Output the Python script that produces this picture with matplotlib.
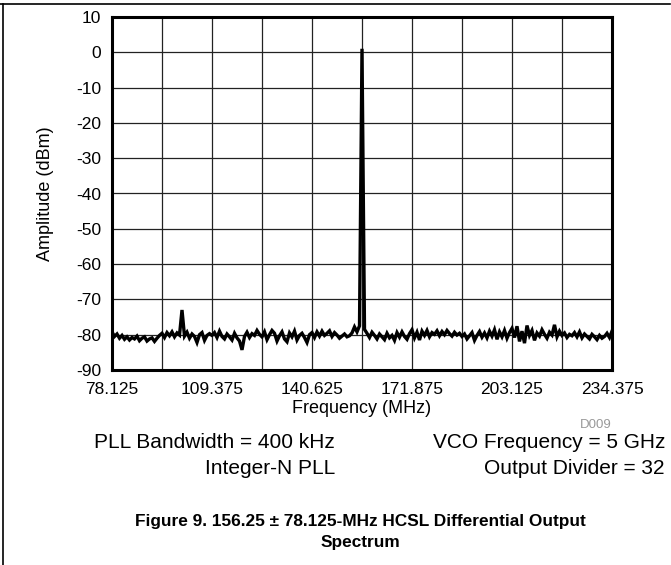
import numpy as np
import matplotlib
matplotlib.use("Agg")
import matplotlib.pyplot as plt
from matplotlib.lines import Line2D

plt.rcParams['font.family'] = ['Liberation Sans', 'DejaVu Sans']
plt.rcParams['axes.unicode_minus'] = False

# ---- Data ----
F_START = 78.125
F_STEP = 0.78125   # analyzer bin spacing (MHz)
amplitude_dbm = [
    # 78.1 - 93.0 MHz
    -79.2, -80.5, -79.8, -81.0, -80.2, -81.3, -80.6, -81.5, -80.8, -81.2,
    -80.4, -81.7, -81.0, -80.6, -81.8, -81.2, -80.9, -81.9, -81.0, -80.2,
    # 93.75 - 108.6 MHz (spur near 100 MHz)
    -79.6, -80.8, -79.4, -80.3, -79.2, -80.6, -79.5, -80.1, -73.0, -80.4,
    -79.3, -81.0, -79.8, -80.5, -82.2, -80.0, -79.4, -81.6, -80.2, -79.7,
    # 109.4 - 124.2 MHz
    -80.2, -79.4, -80.8, -79.0, -80.5, -81.2, -79.8, -80.6, -81.5, -79.6,
    -80.9, -81.8, -84.3, -80.5, -79.3, -80.8, -79.7, -80.2, -78.8, -79.9,
    # 125.0 - 139.8 MHz
    -80.6, -79.2, -81.4, -80.0, -78.8, -79.6, -81.8, -80.3, -79.2, -81.2,
    -82.0, -79.5, -80.6, -79.0, -81.5, -80.2, -79.6, -80.8, -82.2, -80.0,
    # 140.6 - 153.1 MHz
    -79.4, -80.8, -79.2, -80.4, -79.0, -80.2, -79.6, -78.9, -80.5, -79.4,
    -80.1, -81.0, -80.4, -79.8, -80.6, -80.3, -79.5,
    # carrier at 156.25 MHz
    -77.8, -79.2, -77.5, 1.0, -78.5, -79.6,
    # 158.6 - 171.1 MHz
    -80.8, -79.3, -80.2, -81.2, -79.8, -80.6, -81.4, -79.6, -80.9, -80.2,
    -81.6, -79.4, -80.7, -79.2, -80.5, -81.3, -79.7,
    # 171.9 - 186.7 MHz
    -78.6, -80.9, -79.3, -81.5, -79.0, -80.2, -78.8, -80.6, -79.4, -79.9,
    -78.9, -80.3, -79.1, -80.0, -78.8, -79.7, -80.4, -79.3, -80.1, -79.6,
    # 187.5 - 202.3 MHz
    -80.5, -79.8, -81.2, -80.3, -79.4, -81.6, -80.2, -79.1, -80.7, -79.5,
    -80.9, -79.0, -80.4, -78.6, -81.3, -79.2, -80.6, -78.8, -81.0, -79.4,
    # 203.1 - 217.9 MHz
    -78.2, -80.8, -77.6, -81.9, -79.0, -82.4, -77.4, -80.2, -78.8, -81.6,
    -79.5, -80.4, -78.6, -79.9, -81.0, -79.3, -80.1, -77.2, -80.6, -79.0,
    # 218.75 - 234.4 MHz
    -80.2, -79.5, -80.8, -79.9, -80.3, -79.4, -80.6, -79.2, -80.9, -79.8,
    -80.5, -81.2, -79.9, -80.6, -81.4, -80.2, -81.0, -80.5, -79.6, -80.8,
    -79.0,
]
freq_mhz = F_START + F_STEP * np.arange(len(amplitude_dbm))

x_ticks = [78.125, 109.375, 140.625, 171.875, 203.125, 234.375]
x_grid = np.arange(78.125, 234.376, 15.625)
y_ticks = list(range(-90, 11, 10))

notes_left = ["PLL Bandwidth = 400 kHz", "Integer-N PLL"]
notes_right = ["VCO Frequency = 5 GHz", "Output Divider = 32"]
caption = "Figure 9. 156.25 \u00b1 78.125-MHz HCSL Differential Output\nSpectrum"

# ---- Figure ----
fig = plt.figure(figsize=(6.71, 5.65), dpi=100)
W, H = 671, 565
ax = fig.add_axes([112 / W, 1 - 370 / H, 500 / W, 353 / H])

ax.plot(freq_mhz, amplitude_dbm, color="black", lw=2.4, solid_joinstyle="miter")

ax.set_xlim(x_ticks[0], x_ticks[-1])
ax.set_ylim(-90, 10)
ax.set_xticks(x_ticks)
ax.set_xticklabels([f"{v:.3f}" for v in x_ticks])
ax.set_xticks(x_grid, minor=True)
ax.set_yticks(y_ticks)
ax.grid(True, which="both", color="#222222", lw=0.9)
ax.set_axisbelow(True)
ax.tick_params(which="both", length=0, labelsize=12.5)
ax.tick_params(axis="x", pad=9)
ax.tick_params(axis="y", pad=8)
for s in ax.spines.values():
    s.set_linewidth(2.2)

ax.set_xlabel("Frequency (MHz)", fontsize=13, labelpad=2)
ax.set_ylabel("Amplitude (dBm)", fontsize=13, labelpad=16)

fig.text(596 / W, 1 - 425 / H, "D009", fontsize=9.5, color="#999999", ha="center", va="center")

fs_note = 15
fig.text(335 / W, 1 - 443 / H, notes_left[0], fontsize=fs_note, ha="right", va="center")
fig.text(335 / W, 1 - 469 / H, notes_left[1], fontsize=fs_note, ha="right", va="center")
fig.text(665 / W, 1 - 443 / H, notes_right[0], fontsize=fs_note, ha="right", va="center")
fig.text(665 / W, 1 - 469 / H, notes_right[1], fontsize=fs_note, ha="right", va="center")

fig.text(360 / W, 1 - 532 / H, caption, fontsize=12.4, fontweight="bold",
         ha="center", va="center", linespacing=1.45)

# page frame lines (top and left)
fig.add_artist(Line2D([0, 670 / W], [1 - 4 / H, 1 - 4 / H], color="black", lw=1.2,
                      transform=fig.transFigure))
fig.add_artist(Line2D([3 / W, 3 / W], [0, 1 - 4 / H], color="black", lw=1.2,
                      transform=fig.transFigure))

fig.savefig("out.png", dpi=100)
